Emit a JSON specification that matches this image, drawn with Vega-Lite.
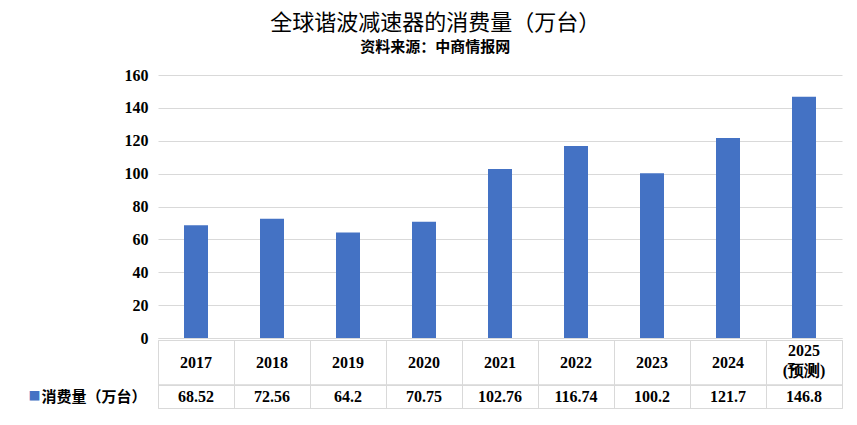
{
  "$schema": "https://vega.github.io/schema/vega-lite/v6.json",
  "background": "white",
  "padding": {"left": 27, "right": 16, "top": 12, "bottom": 17},
  "bounds": "flush",
  "title": {
    "text": "全球谐波减速器的消费量（万台）",
    "subtitle": "资料来源：中商情报网",
    "font": "Noto Sans CJK SC",
    "fontSize": 22,
    "fontWeight": "normal",
    "color": "black",
    "subtitleFont": "Noto Sans CJK SC",
    "subtitleFontSize": 15,
    "subtitleFontWeight": "bold",
    "subtitleColor": "black",
    "subtitlePadding": 5,
    "anchor": "middle",
    "offset": 11
  },
  "datasets": {
    "d": [
      {"year": "2017", "value": 68.52},
      {"year": "2018", "value": 72.56},
      {"year": "2019", "value": 64.2},
      {"year": "2020", "value": 70.75},
      {"year": "2021", "value": 102.76},
      {"year": "2022", "value": 116.74},
      {"year": "2023", "value": 100.2},
      {"year": "2024", "value": 121.7},
      {"year": "2025\n(预测)", "value": 146.8}
    ]
  },
  "spacing": 2,
  "vconcat": [
    {
      "width": 684,
      "height": 263,
      "data": {"name": "d"},
      "mark": {"type": "bar", "size": 24, "color": "#4472C4"},
      "encoding": {
        "x": {
          "field": "year", "type": "nominal", "sort": null,
          "scale": {"paddingInner": 0, "paddingOuter": 0},
          "axis": {"title": null, "labels": false, "ticks": false, "domain": true, "domainColor": "#d9d9d9", "grid": false}
        },
        "y": {
          "field": "value", "type": "quantitative",
          "scale": {"domain": [0, 160]},
          "axis": {
            "title": null, "values": [0, 20, 40, 60, 80, 100, 120, 140, 160],
            "grid": true, "gridColor": "#d9d9d9", "domain": false, "ticks": false,
            "labelPadding": 10, "labelFont": "Liberation Serif", "labelFontSize": 16,
            "labelFontWeight": "bold", "labelColor": "black"
          }
        }
      }
    },
    {
      "width": 684,
      "height": 68,
      "data": {"name": "d"},
      "view": {"stroke": "#d9d9d9"},
      "layer": [
        {
          "mark": {"type": "rule", "color": "#d9d9d9", "strokeWidth": 1},
          "encoding": {
            "y": {
              "datum": "m", "type": "ordinal",
              "scale": {"type": "point", "domain": ["t", "a", "h", "b", "m", "v", "e"], "padding": 0},
              "axis": {
                "title": "■", "titleColor": "#4472C4", "titleAngle": 0, "titleFontSize": 12,
                "titleFont": "Noto Sans CJK SC", "titleAnchor": "end", "titleBaseline": "line-bottom",
                "titleLineHeight": 23, "titlePadding": 1,
                "labelExpr": "datum.value == 'v' ? '消费量（万台）' : ''",
                "labelFont": "Noto Sans CJK SC", "labelFontSize": 15, "labelFontWeight": "bold",
                "labelColor": "black", "labelPadding": 12,
                "ticks": false, "domain": false, "grid": false
              }
            }
          }
        },
        {
          "transform": [{"filter": "indexof(datum.year, '\\n') < 0"}],
          "mark": {"type": "text", "font": "Liberation Serif", "fontSize": 16, "fontWeight": "bold", "color": "black", "baseline": "middle"},
          "encoding": {
            "x": {
              "field": "year", "type": "nominal", "sort": null,
              "scale": {"domain": ["2017", "2018", "2019", "2020", "2021", "2022", "2023", "2024", "2025\n(预测)"], "paddingInner": 0, "paddingOuter": 0},
              "axis": {"title": null, "labels": false, "ticks": false, "domain": false, "grid": true, "gridColor": "#d9d9d9", "gridWidth": 1, "tickBand": "extent"}
            },
            "text": {"field": "year"},
            "y": {"datum": "h", "type": "ordinal"}
          }
        },
        {
          "transform": [{"filter": "indexof(datum.year, '\\n') >= 0"}],
          "mark": {"type": "text", "lineBreak": "\n", "font": "Liberation Serif", "fontSize": 16, "fontWeight": "bold", "color": "black", "lineHeight": 20, "baseline": "middle"},
          "encoding": {
            "x": {"field": "year", "type": "nominal", "sort": null},
            "text": {"field": "year"},
            "y": {"datum": "a", "type": "ordinal"}
          }
        },
        {
          "mark": {"type": "text", "font": "Liberation Serif", "fontSize": 16, "fontWeight": "bold", "color": "black", "baseline": "middle"},
          "encoding": {
            "x": {"field": "year", "type": "nominal", "sort": null},
            "text": {"field": "value", "type": "nominal"},
            "y": {"datum": "v", "type": "ordinal"}
          }
        }
      ]
    }
  ],
  "config": {"view": {"stroke": null}}
}
